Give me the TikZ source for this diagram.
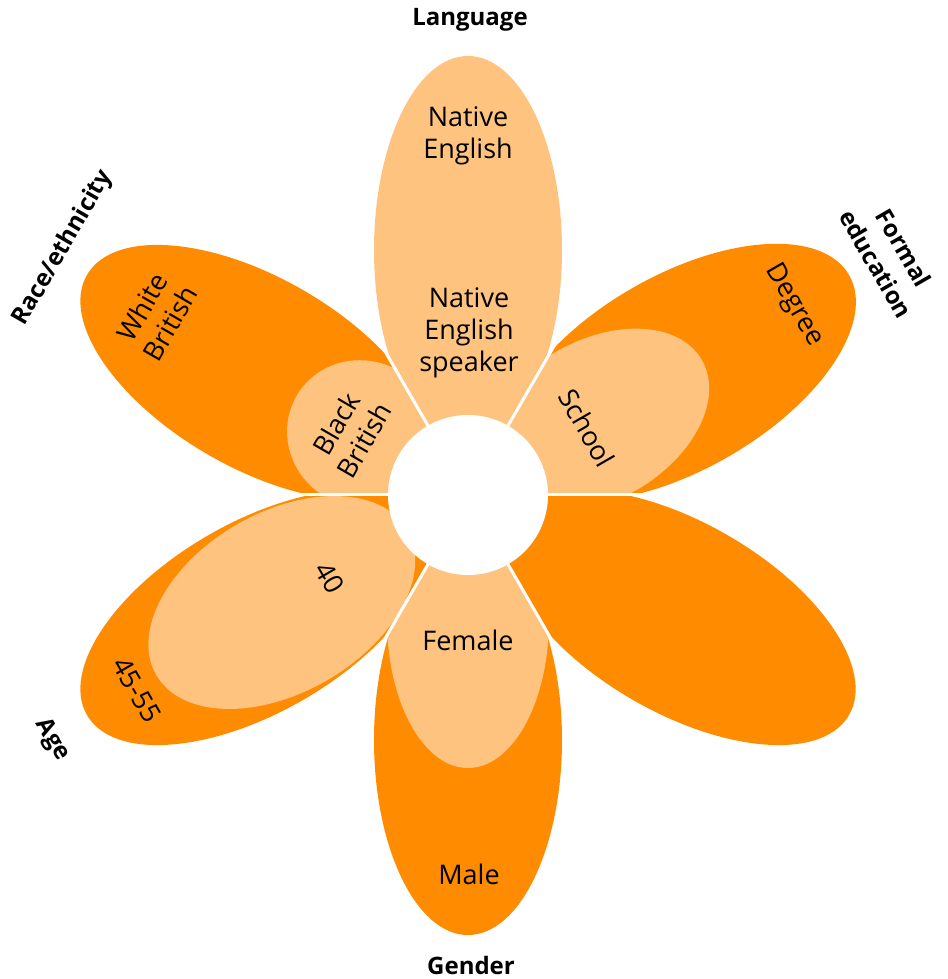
\documentclass[tikz,border=0pt]{standalone}
\usepackage{fontspec}
\setmainfont{Open Sans}
\definecolor{petaldark}{RGB}{255,140,0}
\definecolor{petallight}{RGB}{255,195,128}
\tikzset{
  ptext/.style={font=\fontsize{27}{32}\selectfont, align=center, text=black, inner sep=0pt},
  clabel/.style={font=\bfseries\fontsize{24}{32}\selectfont, align=center, text=black, inner sep=0pt},
  gapline/.style={white, line width=3pt},
}
% #1 angle, #2 colour, #3 centre distance, #4 half length, #5 half width
\newcommand\mypetal[5]{%
  \begin{scope}
    \clip (0,0) -- (#1-30:620) -- (#1+30:620) -- cycle;
    \fill[#2, rotate=#1] (#3,0) ellipse [x radius=#4, y radius=#5];
  \end{scope}}
\begin{document}
\begin{tikzpicture}[x=1pt, y=1pt]
  \useasboundingbox (-468,-484) rectangle (479,495);
  % outer petals
  \mypetal{90}{petallight}{245}{194}{94}
  \mypetal{30}{petaldark}{245}{195}{97}
  \mypetal{-30}{petaldark}{245}{195}{95}
  \mypetal{-90}{petaldark}{245}{195}{94}
  \mypetal{210}{petaldark}{245}{195}{95}
  \mypetal{150}{petaldark}{245}{195}{95}
  % inner petals
  \mypetal{-90}{petallight}{125}{148}{81}
  \mypetal{30}{petallight}{148}{122}{80}
  \mypetal{150}{petallight}{122}{76}{73}
  \mypetal{210}{petallight}{215}{145}{90}
  % gaps
  \foreach \k in {0,60,...,300} \draw[gapline] (0,0) -- (\k:320);
  \fill[white] (0,0) circle [radius=80];
  % petal texts
  \node[ptext] (natEng) at (0,359) {Native\\English};
  \node[ptext] (natEngSp) at (1,162) {Native\\English\\speaker};
  \node[ptext] (female) at (0,-145) {Female};
  \node[ptext] (male) at (1,-379) {Male};
  \node[ptext, rotate=-60] (school) at (119,67) {School};
  \node[ptext, rotate=-60] (degree) at (326,190) {Degree};
  \node[ptext, rotate=60] (whiteBr) at (-312,180) {White\\British};
  \node[ptext, rotate=60] (blackBr) at (-118,63) {Black\\British};
  \node[ptext, rotate=-60] (forty) at (-138,-83) {40};
  \node[ptext, rotate=-60] (fortyfive) at (-331,-195) {45-55};
  % category labels
  \node[clabel] (language) at (2,475) {Language};
  \node[clabel] (gender) at (3,-470) {Gender};
  \node[clabel, rotate=-60] (formal) at (422,239) {Formal\\education};
  \node[clabel, rotate=60] (race) at (-405,247) {Race/ethnicity};
  \node[clabel, rotate=-60] (age) at (-416,-245) {Age};
\end{tikzpicture}
\end{document}
